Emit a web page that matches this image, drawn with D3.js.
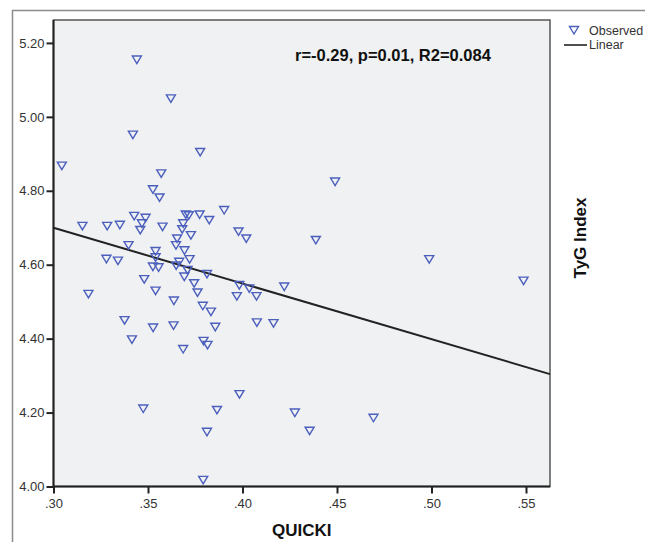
<!DOCTYPE html>
<html>
<head>
<meta charset="utf-8">
<script src="https://cdn.jsdelivr.net/npm/d3@7"></script>
<style>
  body { margin: 0; background: #fff; }
  text { font-family: "Liberation Sans", Arial, sans-serif; }
</style>
</head>
<body>
<svg width="652" height="542"></svg>
<script>
// QUICKI values of the observed points
const quicki = [
  .3441, .3621, .3420, .3776, .3044, .3570, .3526, .3561, .3427, .3487,
  .3468, .3459, .3153, .3284, .3351, .3577, .3700, .3716, .3773, .3824,
  .3686, .3681, .3727, .3654, .3648, .3397, .3540, .3693, .3540, .3665,
  .3720, .3526, .3556, .3649, .3709, .3812, .3280, .3341, .3692, .3480,
  .3744, .3540, .3762, .3185, .3637, .3790, .3833, .3376, .3527, .3635,
  .3856, .3415, .3686, .3794, .3815, .3475, .3865, .3812, .3792, .3984,
  .4277, .4355, .4693, .4490, .3903, .3979, .4020, .4388, .3983, .4036,
  .4221, .3970, .4074, .4076, .4164, .4988, .5487
];
// TyG index for the same points
const tyg = [
  5.155, 5.050, 4.952, 4.905, 4.868, 4.847, 4.804, 4.782, 4.732, 4.727,
  4.712, 4.694, 4.705, 4.705, 4.708, 4.703, 4.736, 4.734, 4.736, 4.721,
  4.712, 4.696, 4.680, 4.671, 4.653, 4.653, 4.637, 4.639, 4.620, 4.608,
  4.615, 4.595, 4.593, 4.598, 4.586, 4.575, 4.616, 4.611, 4.568, 4.561,
  4.550, 4.530, 4.525, 4.521, 4.503, 4.489, 4.473, 4.450, 4.430, 4.436,
  4.432, 4.398, 4.372, 4.394, 4.383, 4.211, 4.207, 4.148, 4.018, 4.250,
  4.200, 4.151, 4.186, 4.825, 4.748, 4.690, 4.671, 4.667, 4.545, 4.536,
  4.541, 4.515, 4.515, 4.444, 4.442, 4.615, 4.557
];
// linear fit: intercept, slope
const fit = [5.152, -1.507];
const xTicks = [.30, .35, .40, .45, .50, .55];
const yTicks = [4.00, 4.20, 4.40, 4.60, 4.80, 5.00, 5.20];
const xDomain = [.30, .5627];
const yDomain = [4.00, 5.262];
const statsLabel = 'r=-0.29, p=0.01, R2=0.084';
const legendLabels = ['Observed', 'Linear'];

const svg = d3.select('svg');
const markColor = '#4b5fbd';

// outer frame (only left and top edges are visible)
svg.append('path')
  .attr('d', 'M12.5,542 V10.5 H645')
  .attr('fill', 'none')
  .attr('stroke', '#8c8c8c')
  .attr('stroke-width', 1.5);

const plot = { left: 53.5, top: 20, right: 550, bottom: 486.5 };

const x = d3.scaleLinear().domain(xDomain).range([plot.left, plot.right]);
const y = d3.scaleLinear().domain(yDomain).range([plot.bottom, plot.top]);

svg.append('rect')
  .attr('x', plot.left)
  .attr('y', plot.top)
  .attr('width', plot.right - plot.left)
  .attr('height', plot.bottom - plot.top)
  .attr('fill', '#f0f1f2')
  .attr('stroke', '#555')
  .attr('stroke-width', 1.5);

const xAxis = svg.append('g')
  .attr('transform', `translate(0,${plot.bottom})`)
  .call(d3.axisBottom(x).tickValues(xTicks).tickSize(7).tickPadding(5)
    .tickFormat(d => d3.format('.2f')(d).replace(/^0/, '')));

const yAxis = svg.append('g')
  .attr('transform', `translate(${plot.left},0)`)
  .call(d3.axisLeft(y).tickValues(yTicks).tickSize(7).tickPadding(2)
    .tickFormat(d3.format('.2f')));

[xAxis, yAxis].forEach(a => {
  a.select('.domain').attr('stroke', '#222').attr('stroke-width', 2);
  a.selectAll('.tick line').attr('stroke', '#222').attr('stroke-width', 2);
  a.selectAll('.tick text')
    .attr('fill', '#333')
    .style('font-size', '13px')
    .style('font-family', '"Liberation Sans", Arial, sans-serif');
});
xAxis.select('.domain').attr('d', `M${plot.left},0H${plot.right}`);
yAxis.select('.domain').attr('d', `M0,${plot.bottom}V${plot.top}`);

// fit line
const fitLine = d3.line()
  .x(d => x(d))
  .y(d => y(fit[0] + fit[1] * d));
svg.append('path')
  .datum(xDomain)
  .attr('d', fitLine)
  .attr('fill', 'none')
  .attr('stroke', '#222')
  .attr('stroke-width', 2);

// inverted triangle marker
const tri = 'M-4.5,-3.5 L4.5,-3.5 L0,4 Z';
const points = quicki.map((q, i) => ({ q: q, t: tyg[i] }));

svg.append('g')
  .selectAll('path')
  .data(points)
  .join('path')
  .attr('transform', d => `translate(${x(d.q)},${y(d.t)})`)
  .attr('d', tri)
  .attr('fill', 'none')
  .attr('stroke', markColor)
  .attr('stroke-width', 1.4);

svg.append('text')
  .attr('x', 295)
  .attr('y', 61)
  .attr('font-size', '16.5px')
  .attr('font-weight', 'bold')
  .attr('fill', '#111')
  .text(statsLabel);

svg.append('text')
  .attr('x', (plot.left + plot.right) / 2)
  .attr('y', 536)
  .attr('text-anchor', 'middle')
  .attr('font-size', '17px')
  .attr('font-weight', 'bold')
  .attr('fill', '#111')
  .text('QUICKI');

svg.append('text')
  .attr('transform', 'translate(586,238) rotate(-90)')
  .attr('text-anchor', 'middle')
  .attr('font-size', '17px')
  .attr('font-weight', 'bold')
  .attr('fill', '#111')
  .text('TyG Index');

// legend
const legend = svg.append('g');
legend.append('path')
  .attr('transform', 'translate(574,30)')
  .attr('d', tri)
  .attr('fill', 'none')
  .attr('stroke', markColor)
  .attr('stroke-width', 1.4);
legend.append('line')
  .attr('x1', 564).attr('x2', 587)
  .attr('y1', 45).attr('y2', 45)
  .attr('stroke', '#222')
  .attr('stroke-width', 1.6);
legend.selectAll('text')
  .data(legendLabels)
  .join('text')
  .attr('x', 589)
  .attr('y', (d, i) => 34.5 + i * 14.5)
  .attr('font-size', '12.5px')
  .attr('fill', '#333')
  .text(d => d);
</script>
</body>
</html>
